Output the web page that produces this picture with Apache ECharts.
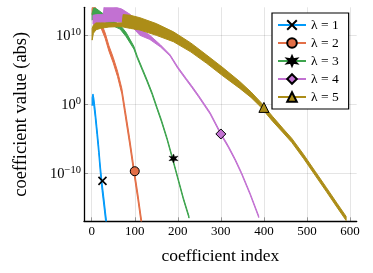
<!DOCTYPE html>
<html>
<head>
<meta charset="utf-8">
<script src="https://cdn.jsdelivr.net/npm/echarts@6/dist/echarts.min.js"></script>
<style>html,body{margin:0;padding:0;background:#fff}#c{width:373px;height:273px}</style>
</head>
<body>
<div id="c"></div>
<script>
// values are log10(|coefficient|); each series is a band (odd/even alternation) between lo and hi
const idx1 = [1, 3, 5, 8, 12, 16, 20, 24, 28, 32, 35];
const hi1  = [1.0, 1.5, 0.9, -0.7, -3.2, -5.8, -8.8, -11.3, -13.4, -15.6, -17.2];
const lo1  = [-0.2, 0.3, -0.3, -1.9, -4.4, -7.0, -10.0, -12.5, -14.6, -16.8, -18.4];

const idx2 = [1, 4, 8, 15, 22, 31, 40, 50, 60, 70, 78, 88, 98, 107, 116];
const hi2  = [13.8, 14.65, 14.15, 13.0, 11.8, 10.4, 8.5, 6.8, 4.8, 2.3, -0.85, -4.85, -9.15, -12.85, -16.85];
const lo2  = [13.0, 13.85, 13.35, 12.2, 11.0, 9.6, 7.7, 6.0, 4.0, 1.5, -1.75, -5.75, -10.05, -13.75, -17.75];

const idx3 = [1, 5, 12, 25, 40, 52, 66, 80, 98, 106, 118, 128, 140, 152, 162, 175, 187, 200, 213, 226];
const hi3  = [13.2, 14.0, 13.8, 13.2, 12.6, 12.0, 11.5, 10.4, 8.4, 6.95, 5.15, 3.65, 1.75, -0.45, -2.25, -4.85, -7.55, -10.55, -13.55, -16.2];
const lo3  = [12.2, 12.6, 12.5, 12.1, 11.7, 11.3, 10.9, 9.8, 8.0, 6.65, 4.85, 3.35, 1.45, -0.75, -2.55, -5.15, -7.85, -10.85, -13.85, -16.5];

const idx4 = [3, 12, 27, 29, 50, 70, 90, 112, 135, 160, 182, 200, 220, 232, 248, 275, 300, 317, 333, 348, 368, 388];
const hi4  = [12.9, 13.0, 13.0, 14.3, 14.2, 13.8, 13.0, 11.0, 10.0, 8.6, 7.2, 5.42, 3.72, 2.72, 1.32, -1.18, -4.18, -5.98, -7.88, -9.88, -12.88, -16.18];
const lo4  = [11.6, 11.6, 11.7, 11.9, 12.0, 11.9, 11.5, 10.0, 9.4, 8.3, 7.0, 5.18, 3.48, 2.48, 1.08, -1.42, -4.42, -6.22, -8.12, -10.12, -13.12, -16.42];

const idx5 = [1, 4, 10, 20, 40, 60, 71, 73, 90, 112, 150, 190, 230, 267, 305, 344, 370, 392, 420, 445, 465, 492, 519, 545, 570, 591];
const hi5  = [11.0, 11.5, 11.8, 11.8, 11.8, 11.8, 11.8, 13.0, 12.9, 12.55, 11.7, 10.5, 8.9, 7.14, 5.3, 3.3, 1.8, 0.35, -1.75, -3.55, -4.95, -7.25, -9.7, -12.05, -14.35, -16.25];
const lo5  = [9.3, 10.3, 10.8, 11.0, 11.2, 11.25, 11.25, 11.2, 11.0, 10.77, 10.0, 9.07, 7.6, 5.94, 4.1, 2.3, 1.0, -0.35, -2.45, -4.15, -5.55, -7.85, -10.3, -12.65, -14.95, -16.85];

// one marked point per series
const markerIdx = [25, 100, 190, 300, 400];
const markerVal = [-11.1, -9.7, -7.85, -4.3, -0.45];

const names = ['λ = 1', 'λ = 2', 'λ = 3', 'λ = 4', 'λ = 5'];
const xTicks = [0, 100, 200, 300, 400, 500, 600];
const yTicks = [-10, 0, 10];

const colors = ['#009AFA', '#E36F47', '#3EA44E', '#C271D2', '#AC8D18'];
const bands = [[idx1, hi1, lo1], [idx2, hi2, lo2], [idx3, hi3, lo3], [idx4, hi4, lo4], [idx5, hi5, lo5]];

const SYM_X = 'path://M0,0L10,10M10,0L0,10';
const SYM_STAR = 'path://M10,0L12.25,6.1L18.66,5L14.5,10L18.66,15L12.25,13.9L10,20L7.75,13.9L1.34,15L5.5,10L1.34,5L7.75,6.1Z';
const symbols = [SYM_X, 'circle', SYM_STAR, 'diamond', 'triangle'];
const symFill = ['#000', colors[1], '#000', colors[3], colors[4]];
const symSize = [8, 9, 9, 10, 10];
const symBorder = [1.6, 1, 0.5, 1, 1];

const serif = 'Liberation Serif';
const series = [];
bands.forEach(function (b, k) {
  const xs = b[0], hs = b[1], ls = b[2];
  series.push({
    type: 'custom',
    name: 'band' + k,
    coordinateSystem: 'cartesian2d',
    clip: true,
    silent: true,
    data: xs.map(function (x, i) { return [x, ls[i], hs[i]]; }),
    encode: { x: 0, y: [1, 2] },
    renderItem: function (params, api) {
      if (params.dataIndex !== 0) return null;
      const pts = [];
      for (let i = 0; i < xs.length; i++) pts.push(api.coord([xs[i], hs[i]]));
      for (let i = xs.length - 1; i >= 0; i--) pts.push(api.coord([xs[i], ls[i]]));
      return {
        type: 'polygon',
        shape: { points: pts },
        style: { fill: colors[k], stroke: colors[k], lineWidth: 1.0, lineJoin: 'round' }
      };
    }
  });
});
names.forEach(function (n, k) {
  series.push({
    type: 'line',
    name: n,
    z: 10,
    data: [[markerIdx[k], markerVal[k]]],
    symbol: symbols[k],
    symbolSize: symSize[k],
    showSymbol: true,
    lineStyle: { color: colors[k], width: 2 },
    itemStyle: { color: symFill[k], borderColor: '#000', borderWidth: symBorder[k] },
    emphasis: { disabled: true }
  });
});

const chart = echarts.init(document.getElementById('c'), null, { renderer: 'canvas' });
chart.setOption({
  animation: false,
  backgroundColor: '#fff',
  grid: { left: 84, top: 7.3, right: 16.3, bottom: 51.7, containLabel: false },
  legend: {
    data: names,
    orient: 'vertical',
    left: 272, top: 13,
    padding: [5, 10, 5, 5],
    itemGap: 4,
    itemWidth: 28, itemHeight: 12,
    itemTextGap: 5,
    backgroundColor: '#fff',
    borderColor: '#000', borderWidth: 1.2,
    borderRadius: 0,
    textStyle: { fontFamily: serif, fontSize: 13.5, color: '#000' }
  },
  xAxis: {
    type: 'value', min: -17.9, max: 615.6,
    name: 'coefficient index', nameLocation: 'middle', nameGap: 26,
    nameTextStyle: { fontFamily: serif, fontSize: 17.5, color: '#000' },
    axisLine: { show: true, onZero: false, lineStyle: { color: '#000', width: 1.3 } },
    axisTick: { show: true, inside: true, length: 4, customValues: xTicks, lineStyle: { color: 'rgba(0,0,0,0.35)' } },
    axisLabel: { customValues: xTicks, fontFamily: serif, fontSize: 13, color: '#000', margin: 4 },
    splitLine: { show: true, lineStyle: { color: 'rgba(0,0,0,0.1)', width: 1 } }
  },
  yAxis: {
    type: 'value', min: -16.96, max: 14.06,
    name: 'coefficient value (abs)', nameLocation: 'middle', nameGap: 53,
    nameTextStyle: { fontFamily: serif, fontSize: 18.5, color: '#000' },
    axisLine: { show: true, onZero: false, lineStyle: { color: '#000', width: 1.3 } },
    axisTick: { show: true, inside: true, length: 4, customValues: yTicks, lineStyle: { color: 'rgba(0,0,0,0.35)' } },
    axisLabel: {
      customValues: yTicks, margin: 3, color: '#000',
      formatter: function (v) { return '{b|10}{s|' + String(v).replace('-', '\u2212') + '}'; },
      rich: {
        b: { fontFamily: serif, fontSize: 14.5, color: '#000', verticalAlign: 'bottom' },
        s: { fontFamily: serif, fontSize: 10.5, color: '#000', verticalAlign: 'bottom', padding: [0, 0, 6.5, 0] }
      }
    },
    splitLine: { show: true, lineStyle: { color: 'rgba(0,0,0,0.1)', width: 1 } }
  },
  series: series
});
</script>
</body>
</html>
